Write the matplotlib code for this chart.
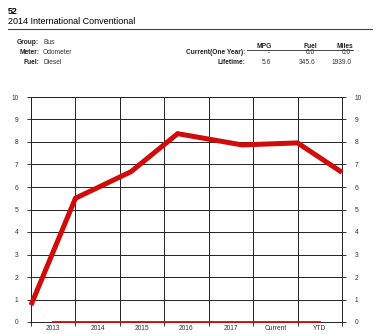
import matplotlib
matplotlib.use("Agg")
import matplotlib.pyplot as plt
from matplotlib.lines import Line2D

plt.rcParams['font.family'] = ['Liberation Sans', 'DejaVu Sans']

categories = ["2013", "2014", "2015", "2016", "2017", "Current", "YTD"]
mpg_x = [0.0, 1.0, 2.25, 3.3, 4.75, 6.0, 7.0]
mpg_values = [0.75, 5.5, 6.68, 8.37, 7.87, 7.96, 6.65]
zero_x = [0.5, 6.5]
zero_values = [0.0, 0.0]
y_ticks = list(range(0, 11))

fig = plt.figure(figsize=(3.82, 3.34), dpi=100)
W, H = 382, 334

def fx(px):
    return px / W

def fy(py):
    return 1 - py / H

# Header texts
fig.text(fx(8), fy(11), "52", fontsize=6.5, fontweight='bold', va='center', ha='left')
fig.text(fx(8), fy(21.5), "2014 International Conventional", fontsize=6.5, va='center', ha='left')
fig.add_artist(Line2D([fx(8), fx(372)], [fy(29), fy(29)], color='#444444', lw=0.8))

left_labels = ["Group:", "Meter:", "Fuel:"]
left_values = ["Bus", "Odometer", "Diesel"]
rows_y = [43, 52.5, 62.5]
for lab, val, yy in zip(left_labels, left_values, rows_y):
    fig.text(fx(39), fy(yy), lab, fontsize=4.8, fontweight='bold', ha='right', va='center', color='#222222')
    fig.text(fx(43), fy(yy), val, fontsize=4.8, ha='left', va='center', color='#333333')

col_heads = ["MPG", "Fuel", "Miles"]
col_x = [272, 317, 353]
current_vals = ["-", "0.0", "0.0"]
lifetime_vals = ["5.6", "345.6", "1939.0"]
for h, cx in zip(col_heads, col_x):
    fig.text(fx(cx), fy(46), h, fontsize=4.8, fontweight='bold', ha='right', va='center', color='#222222')
fig.add_artist(Line2D([fx(247), fx(353)], [fy(49.5), fy(49.5)], color='#444444', lw=0.7))
fig.text(fx(245), fy(53), "Current(One Year):", fontsize=4.8, fontweight='bold', ha='right', va='center', color='#222222')
fig.text(fx(245), fy(63), "Lifetime:", fontsize=4.8, fontweight='bold', ha='right', va='center', color='#222222')
for v, cx in zip(current_vals, col_x):
    fig.text(fx(cx - 2), fy(53), v, fontsize=4.8, ha='right', va='center', color='#333333')
for v, cx in zip(lifetime_vals, col_x):
    fig.text(fx(cx - 1), fy(63), v, fontsize=4.8, ha='right', va='center', color='#333333')

# Chart
ax = fig.add_axes([fx(31), fy(322), fx(342) - fx(31), (322 - 97) / H])
n = len(categories)
ax.set_xlim(0, n)
ax.set_ylim(0, 10)

ax.plot(mpg_x, mpg_values, color='#d10a0a', lw=3.6, solid_capstyle='butt', solid_joinstyle='miter', zorder=3, clip_on=False)
ax.plot(zero_x, zero_values, color='#d10a0a', lw=1.3, zorder=3, clip_on=False)

ax.set_xticks(list(range(0, n + 1)))
ax.set_xticklabels([])
ax.set_xticks([i + 0.5 for i in range(n)], minor=True)
ax.set_xticklabels(categories, minor=True, fontsize=4.8, color='#333333')
ax.tick_params(axis='x', which='minor', length=0, pad=2)
ax.tick_params(axis='x', which='major', length=3, width=0.7, color='#333333', direction='out')

ax.set_yticks(y_ticks)
ax.set_yticklabels([str(t) for t in y_ticks], fontsize=4.8, color='#333333')
ax.tick_params(axis='y', which='major', length=3, width=0.7, color='#333333', direction='out',
               left=True, right=True, labelleft=True, labelright=True, pad=6)

ax.grid(True, which='major', color='#222222', lw=0.7)
for s in ax.spines.values():
    s.set_color('#222222')
    s.set_linewidth(0.7)
ax.spines['top'].set_visible(True)

fig.savefig("out.png", dpi=100)
